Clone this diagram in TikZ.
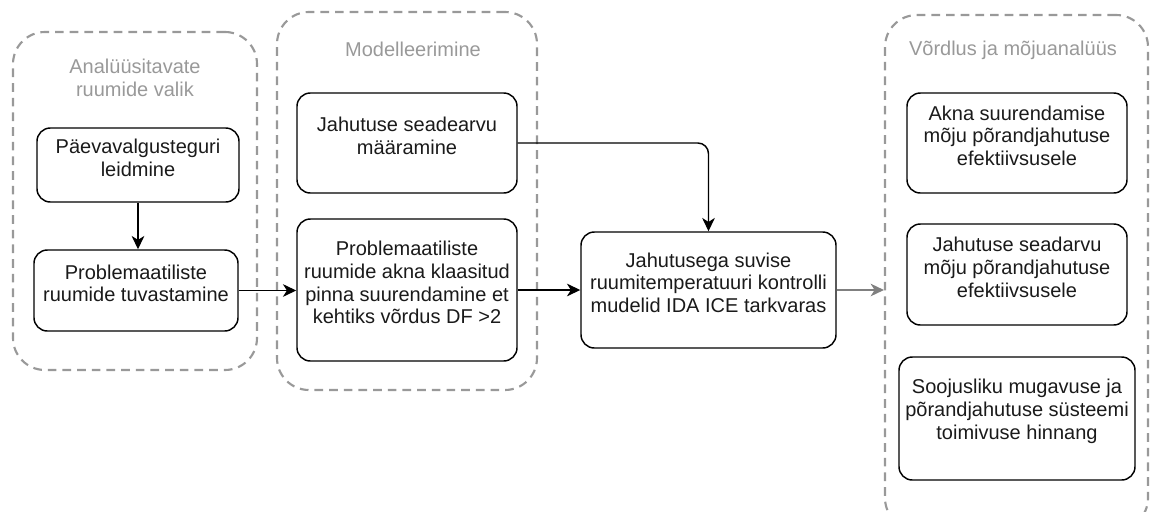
\documentclass[tikz,border=0pt]{standalone}
\usepackage{fontspec}
\setmainfont{Liberation Sans}
\usetikzlibrary{arrows.meta,fit}
\definecolor{grouplinecol}{HTML}{999999}
\definecolor{flowgray}{HTML}{808080}
\definecolor{steptext}{HTML}{1A1A1A}
\begin{document}
\begin{tikzpicture}[x=0.75pt,y=-0.75pt,
  font=\fontsize{15}{17}\selectfont,
  stepbox/.style={draw=black,text=steptext,line width=1.1pt,rounded corners=10pt,inner sep=0pt,align=center},
  groupbox/.style={draw=grouplinecol,line width=1.6pt,dash pattern=on 6.5pt off 4.5pt,rounded corners=24pt,inner sep=0pt},
  grouptitle/.style={text=grouplinecol,align=center},
  flow/.style={line width=1.1pt,-{Stealth[length=10pt,width=9.5pt,inset=3pt]}},
]
\useasboundingbox (0,0) rectangle (1150,511);
\clip (0,0) rectangle (1150,511);

% stage frames
\node[groupbox,fit={(13,32) (257,370)}] (g1) {};
\node[groupbox,fit={(277,12) (537,390)}] (g2) {};
\node[groupbox,fit={(885,15) (1148,530)}] (g3) {};

% stage titles
\node[grouptitle] (t1) at (135,78) {Analüüsitavate\\ruumide valik};
\node[grouptitle] (t2) at (413,49) {Modelleerimine};
\node[grouptitle] (t3) at (1013,50) {Võrdlus ja mõjuanalüüs};

% process steps
\node[stepbox,fit={(37,128) (239,202)}] (b1) {Päevavalgusteguri\\leidmine};
\node[stepbox,fit={(34,250) (238,331)}] (b2) {Problemaatiliste\\ruumide tuvastamine};
\node[stepbox,fit={(297,93) (517,193)}] (b3) {Jahutuse seadearvu\\määramine};
\node[stepbox,fit={(297,219) (517,361)}] (b4) {Problemaatiliste\\ruumide akna klaasitud\\pinna suurendamine et\\kehtiks võrdus DF >2};
\node[stepbox,fit={(581,232) (836,348)}] (c) {Jahutusega suvise\\ruumitemperatuuri kontrolli\\mudelid IDA ICE tarkvaras};
\node[stepbox,fit={(907,93) (1127,193)}] (r1) {Akna suurendamise\\mõju põrandjahutuse\\efektiivsusele};
\node[stepbox,fit={(907,224) (1127,325)}] (r2) {Jahutuse seadarvu\\mõju põrandjahutuse\\efektiivsusele};
\node[stepbox,fit={(899,357) (1135,480)}] (r3) {Soojusliku mugavuse ja\\põrandjahutuse süsteemi\\toimivuse hinnang};

% connectors
\draw[flow] (b1.south) -- (b1.south |- b2.north);
\draw[flow] (b2.east) -- (b2.east -| b4.west);
\draw[flow] (b4.east) -- (b4.east -| c.west);
\draw[flow,rounded corners=8pt] (b3.east) -| (c.north);
\draw[flow,draw=flowgray] (c.east) -- (c.east -| g3.west);
\end{tikzpicture}
\end{document}
